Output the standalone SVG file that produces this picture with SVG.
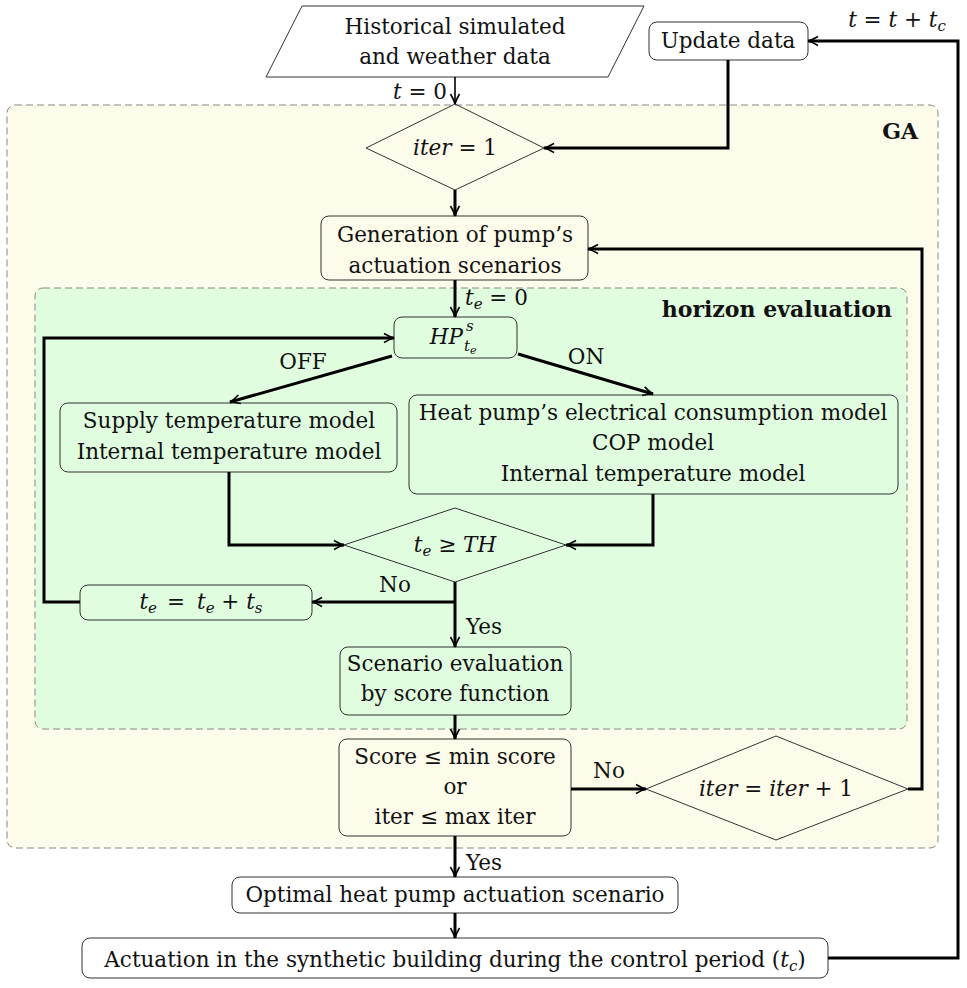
<svg xmlns="http://www.w3.org/2000/svg" width="967" height="988" viewBox="0 0 967 988">
<style>
.t{font-family:"DejaVu Serif","Liberation Serif",serif;font-size:21.5px;text-anchor:middle;fill:#111}
.b{font-weight:bold;font-size:22px}
.i{font-style:italic}
.s{font-size:15px}
.box{fill:none;stroke:#333;stroke-width:1}
.wbox{fill:#fff;stroke:#333;stroke-width:1}
.c{fill:none;stroke:#000;stroke-width:3}
.cn{fill:none;stroke:#000;stroke-width:1.6}
</style>
<defs>
<marker id="ah" viewBox="0 0 12 12" refX="11" refY="6" markerWidth="12" markerHeight="12" markerUnits="userSpaceOnUse" orient="auto">
<path d="M1,1.5 Q7,5 11,6 Q7,7 1,10.5" fill="none" stroke="#000" stroke-width="1.6"/>
</marker>
</defs>
<rect width="967" height="988" fill="#fff"/>
<g id="ga-container">
<rect x="7" y="105" width="931" height="743" rx="8" fill="#fdfbe9" stroke="#888" stroke-dasharray="7,4"/>
<text class="t b" x="918" y="139" style="text-anchor:end">GA</text>
</g>
<g id="horizon-container">
<rect x="35" y="288" width="872" height="441" rx="8" fill="#e0fde0" stroke="#888" stroke-dasharray="7,4"/>
<text class="t b" x="892" y="317" style="text-anchor:end">horizon evaluation</text>
</g>
<g id="input">
<polygon class="wbox" points="302,6 644,6 608,77 266,77"/>
<text class="t" x="455" y="34">Historical simulated</text>
<text class="t" x="455" y="64">and weather data</text>
</g>
<g id="update">
<rect class="wbox" x="649" y="22" width="159" height="38" rx="8"/>
<text class="t" x="728" y="48">Update data</text>
</g>
<g id="iter1">
<polygon class="box" points="455,104 544,148 455,190 366,148"/>
<text class="t" x="455" y="155"><tspan class="i">iter</tspan> = 1</text>
</g>
<g id="generation">
<rect class="box" x="321" y="216" width="267" height="64" rx="8"/>
<text class="t" x="455" y="242">Generation of pump’s</text>
<text class="t" x="455" y="273">actuation scenarios</text>
</g>
<g id="hp">
<rect class="box" x="394" y="317" width="123" height="41" rx="8"/>
<text class="t i" x="463" y="344" style="text-anchor:end">HP</text>
<text class="t i s" x="466" y="331" style="text-anchor:start">s</text>
<text class="t i s" x="464" y="351" style="text-anchor:start">t<tspan font-size="11" dy="3">e</tspan></text>
</g>
<g id="supply">
<rect class="box" x="60" y="403" width="337" height="69" rx="8"/>
<text class="t" x="229" y="428">Supply temperature model</text>
<text class="t" x="229" y="459">Internal temperature model</text>
</g>
<g id="heatpump">
<rect class="box" x="409" y="395" width="489" height="99" rx="8"/>
<text class="t" x="653" y="420">Heat pump’s electrical consumption model</text>
<text class="t" x="653" y="450">COP model</text>
<text class="t" x="653" y="481">Internal temperature model</text>
</g>
<g id="te-th">
<polygon class="box" points="455,508 566,545 455,582 344,545"/>
<text class="t" x="455" y="552"><tspan class="i">t</tspan><tspan class="i" font-size="15" dy="4">e</tspan><tspan dy="-4"> ≥ </tspan><tspan class="i">TH</tspan></text>
</g>
<g id="te-update">
<rect class="box" x="80" y="585" width="232" height="35" rx="8"/>
<text class="t" x="201" y="609"><tspan class="i">t</tspan><tspan class="i" font-size="15" dy="4">e</tspan><tspan dy="-4" dx="10">=</tspan><tspan class="i" dx="12">t</tspan><tspan class="i" font-size="15" dy="4">e</tspan><tspan dy="-4"> + </tspan><tspan class="i">t</tspan><tspan class="i" font-size="15" dy="4">s</tspan></text>
</g>
<g id="scenario">
<rect class="box" x="340" y="647" width="231" height="68" rx="8"/>
<text class="t" x="455" y="671">Scenario evaluation</text>
<text class="t" x="455" y="701">by score function</text>
</g>
<g id="score">
<rect class="box" x="339" y="739" width="232" height="97" rx="8"/>
<text class="t" x="455" y="764">Score ≤ min score</text>
<text class="t" x="455" y="794">or</text>
<text class="t" x="455" y="824">iter ≤ max iter</text>
</g>
<g id="iter-inc">
<polygon class="box" points="776,736 908,789 776,840 646,789"/>
<text class="t" x="776" y="796"><tspan class="i">iter</tspan> = <tspan class="i">iter</tspan> + 1</text>
</g>
<g id="optimal">
<rect class="wbox" x="232" y="877" width="446" height="36" rx="8"/>
<text class="t" x="455" y="902">Optimal heat pump actuation scenario</text>
</g>
<g id="actuation">
<rect class="wbox" x="82" y="938" width="746" height="40" rx="8"/>
<text class="t" x="455" y="967">Actuation in the synthetic building during the control period (<tspan class="i">t</tspan><tspan class="i" font-size="15" dy="4">c</tspan><tspan dy="-4">)</tspan></text>
</g>
<g id="connectors">
<path class="cn" d="M455,77 V104" marker-end="url(#ah)"/>
<path class="c" d="M728,60 V148 H544" marker-end="url(#ah)"/>
<path class="c" d="M828,958 H958 V41 H808" marker-end="url(#ah)"/>
<path class="c" d="M455,190 V216" marker-end="url(#ah)"/>
<path class="c" d="M908,789 H922 V249 H588" marker-end="url(#ah)"/>
<path class="c" d="M455,280 V317" marker-end="url(#ah)"/>
<path class="c" stroke-width="2.5" d="M392,356 L230,402" marker-end="url(#ah)"/>
<path class="c" stroke-width="2.5" d="M518,354 L653,394" marker-end="url(#ah)"/>
<path class="c" d="M229,472 V545 H344" marker-end="url(#ah)"/>
<path class="c" d="M653,494 V545 H566" marker-end="url(#ah)"/>
<path class="c" d="M455,582 V647" marker-end="url(#ah)"/>
<path class="c" d="M455,602 H312" marker-end="url(#ah)"/>
<path class="c" d="M80,602 H44 V338 H394" marker-end="url(#ah)"/>
<path class="c" d="M455,715 V739" marker-end="url(#ah)"/>
<path class="c" d="M571,789 H646" marker-end="url(#ah)"/>
<path class="c" d="M455,836 V877" marker-end="url(#ah)"/>
<path class="c" d="M455,913 V938" marker-end="url(#ah)"/>
<text class="t" x="447" y="99" style="text-anchor:end"><tspan class="i">t</tspan> = 0</text>
<text class="t" x="897" y="27"><tspan class="i">t</tspan> = <tspan class="i">t</tspan> + <tspan class="i">t</tspan><tspan class="i" font-size="15" dy="4">c</tspan></text>
<text class="t" x="465" y="305" style="text-anchor:start"><tspan class="i">t</tspan><tspan class="i" font-size="15" dy="4">e</tspan><tspan dy="-4"> = 0</tspan></text>
<text class="t" x="303" y="369">OFF</text>
<text class="t" x="586" y="364">ON</text>
<text class="t" x="395" y="592">No</text>
<text class="t" x="466" y="634" style="text-anchor:start">Yes</text>
<text class="t" x="609" y="778">No</text>
<text class="t" x="466" y="870" style="text-anchor:start">Yes</text>
</g>
</svg>
